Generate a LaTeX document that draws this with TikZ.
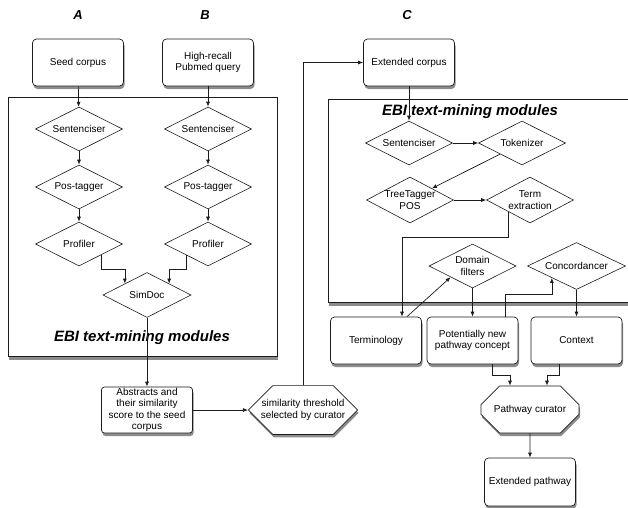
\documentclass[tikz,border=0pt]{standalone}
\usepackage{fontspec}
\setmainfont{Liberation Sans}
\usetikzlibrary{arrows.meta,shapes.geometric,shapes.misc,shadows}
\definecolor{ink}{HTML}{1C1C1C}

\begin{document}
\begin{tikzpicture}[x=1pt,y=-1pt,
  box/.style={draw=ink,fill=white,rounded corners=4pt,align=center,
    minimum width=91pt,minimum height=47pt,inner sep=1pt,line width=.7pt,
    font=\fontsize{10}{11.5}\selectfont,
    drop shadow={shadow xshift=1pt,shadow yshift=-3pt,opacity=.45,fill=black}},
  frame/.style={draw=ink,fill=white,inner sep=0pt,line width=.9pt,
    drop shadow={shadow xshift=1pt,shadow yshift=-3.5pt,opacity=.45,fill=black}},
  dia/.style={diamond,aspect=2,draw=ink,fill=white,align=center,line width=.6pt,
    inner xsep=-7pt,inner ysep=0pt,minimum width=87pt,minimum height=44pt,
    font=\fontsize{10}{11.5}\selectfont},
  octa/.style={chamfered rectangle,chamfered rectangle xsep=12.5pt,
    chamfered rectangle ysep=13pt,draw=ink,fill=white,align=center,
    minimum width=98pt,minimum height=47pt,inner sep=1pt,line width=.7pt,
    font=\fontsize{10}{11.5}\selectfont,
    drop shadow={shadow xshift=1pt,shadow yshift=-3pt,opacity=.45,fill=black}},
  head/.style={font=\fontsize{13}{15}\selectfont\bfseries\itshape},
  title/.style={font=\fontsize{15}{17}\selectfont\bfseries\itshape},
  flow/.style={-{Latex[length=5pt,width=4pt]},draw=ink,line width=.7pt}]
\useasboundingbox (0,0) rectangle (628,507);

% column headings
\node[head] (lettA) at (78,15) {A};
\node[head] (lettB) at (205,15) {B};
\node[head] (lettC) at (407,15) {C};

% module frames
\node[frame,minimum width=269pt,minimum height=259pt] (ebiA) at (142.5,226.5) {};
\node[frame,minimum width=304pt,minimum height=203pt] (ebiC) at (480,200.5) {};
\node[title] (lblA) at (142,338) {EBI text-mining modules};
\node[title] (lblC) at (470,112) {EBI text-mining modules};

% inputs
\node[box] (seed) at (78,62.5) {Seed corpus};
\node[box] (query) at (208,62.5) {High-recall\\Pubmed query};
\node[box] (extcorp) at (409,62.5) {Extended corpus};

% A and B pipelines
\node[dia] (sentA) at (79,129) {Sentenciser};
\node[dia] (posA) at (79,187) {Pos-tagger};
\node[dia] (profA) at (79,244) {Profiler};
\node[dia] (sentB) at (208,129) {Sentenciser};
\node[dia] (posB) at (208,187) {Pos-tagger};
\node[dia] (profB) at (208,244) {Profiler};
\node[dia,minimum width=88pt,minimum height=45pt] (simdoc) at (147,295) {SimDoc};

\node[box,rounded corners=3pt,minimum height=46pt] (abstr) at (147,410)
  {Abstracts and\\their similarity\\score to the seed\\corpus};
\node[octa,minimum width=99pt,minimum height=46pt] (simthr) at (303,410)
  {similarity threshold\\selected by curator};

% C pipeline
\node[dia] (sentC) at (409,143) {Sentenciser};
\node[dia] (tok) at (522,143) {Tokenizer};
\node[dia,inner xsep=-12pt,minimum height=46pt] (tree) at (410,200) {TreeTagger\\POS};
\node[dia,minimum height=46pt] (term) at (530,200) {Term\\extraction};
\node[dia] (domain) at (472.5,266) {Domain\\filters};
\node[dia,minimum width=98pt,minimum height=47pt] (conc) at (576.5,266) {Concordancer};

\node[box] (termin) at (376,340.5) {Terminology};
\node[box] (potent) at (472.5,340.5) {Potentially new\\pathway concept};
\node[box] (context) at (576.5,340.5) {Context};
\node[octa] (curator) at (530,409.5) {Pathway curator};
\node[box,minimum height=48pt] (extpath) at (530,482) {Extended pathway};

% connectors
\draw[flow] (seed) -- (sentA);
\draw[flow] (sentA) -- (posA);
\draw[flow] (posA) -- (profA);
\draw[flow] (query) -- (sentB);
\draw[flow] (sentB) -- (posB);
\draw[flow] (posB) -- (profB);
\draw[flow] (profA.south east) -- ++(0,14) -| (simdoc.north west);
\draw[flow] (profB.south west) -- ++(0,14) -| (simdoc.north east);
\draw[flow] (simdoc) -- (abstr);
\draw[flow] (abstr) -- (simthr);
\draw[flow] (simthr.north) |- (extcorp.west);
\draw[flow] (extcorp) -- (sentC);
\draw[flow] (sentC) -- (tok);
\draw[flow] (tok.south west) -- (tree.north east);
\draw[flow] (tree) -- (term);
\draw[flow] (term.south west) -- ++(0,26) -| ([xshift=26pt]termin.north);
\draw[flow] ([xshift=31pt]termin.north) -- (domain.south west);
\draw[flow] (domain) -- (potent);
\draw[flow] ([xshift=33pt]potent.north) -- ++(0,-22) -| (conc.south west);
\draw[flow] (conc) -- (context);
\draw[flow] ([xshift=20pt]potent.south) -- ++(0,11) -| ([xshift=-20pt]curator.north);
\draw[flow] ([xshift=-17pt]context.south) -- ++(0,11) -| ([xshift=17pt]curator.north);
\draw[flow] (curator) -- (extpath);
\end{tikzpicture}
\end{document}
